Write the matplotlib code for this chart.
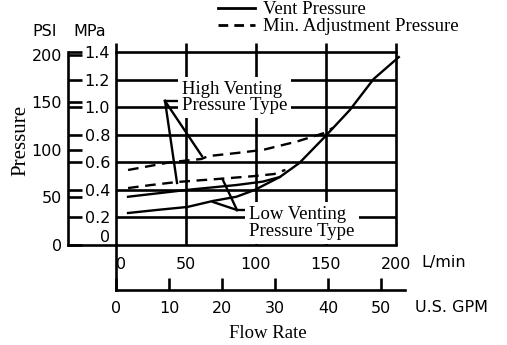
import matplotlib
matplotlib.use("Agg")
import matplotlib.pyplot as plt
from matplotlib.lines import Line2D

# --- axis scales ---
flow_ticks = [0, 50, 100, 150, 200]          # L/min
gpm_ticks = [0, 10, 20, 30, 40, 50]          # U.S. GPM
psi_ticks = [0, 50, 100, 150, 200]           # PSI
mpa_ticks = [0.2, 0.4, 0.6, 0.8, 1.0, 1.2, 1.4]
mpa_grid = [0.2, 0.4, 0.6, 0.8, 1.0, 1.2]

LMIN_PER_GPM = 3.78541
PSI_PER_MPA = 145.038

# --- curves (flow in L/min, pressure in MPa) ---
low_vent_flow = [8.6, 30, 51, 69, 86, 99, 117, 131, 149, 167, 184, 202]
low_vent_mpa = [0.232, 0.255, 0.276, 0.319, 0.35, 0.399, 0.493, 0.595, 0.783, 0.979, 1.204, 1.363]

high_vent_flow = [8.6, 51, 86, 105, 117]
high_vent_mpa = [0.35, 0.40, 0.435, 0.46, 0.493]

low_min_flow = [8.6, 25, 43.6, 74, 99, 113, 121]
low_min_mpa = [0.413, 0.435, 0.457, 0.48, 0.50, 0.515, 0.545]

high_min_flow = [8.6, 38.6, 61, 66, 86, 105, 129, 148, 155]
high_min_mpa = [0.544, 0.60, 0.624, 0.645, 0.667, 0.69, 0.75, 0.81, 0.85]

# --- labels: text anchor, leader vertex and the points each leader touches ---
high_label_xy = (47, 1.07)
high_vertex = (35, 1.045)
high_targets_flow = [61.4, 43.6]
high_targets_mpa = [0.645, 0.45]

low_label_xy = (95, 0.16)
low_vertex = (86.4, 0.254)
low_targets_flow = [76.4, 69.3]
low_targets_mpa = [0.471, 0.312]

W, H = 507, 345
LW = 1.9      # frame and grid
CLW = 1.7     # curves and leaders
SANS = "DejaVu Sans"
SERIF = "Liberation Serif"

fig = plt.figure(figsize=(W / 100, H / 100), dpi=100)

# main plotting area (L/min vs MPa)
ax = fig.add_axes([116 / W, (H - 245) / H, 280 / W, 193 / H])
ax.set_xlim(0, 200)
ax.set_ylim(0, 1.4)
for side in ("left", "right"):
    ax.spines[side].set_visible(False)
for side in ("top", "bottom"):
    ax.spines[side].set_linewidth(LW)
ax.set_xticks(flow_ticks)
ax.set_xticklabels([str(v) for v in flow_ticks], fontsize=11.5, family=SANS)
ax.set_yticks(mpa_ticks)
ax.set_yticklabels([f"{v:.1f}" for v in mpa_ticks], fontsize=11.5, family=SANS)
ax.tick_params(axis="x", length=0, pad=8.5)
ax.tick_params(axis="y", length=0, pad=4.3)
ax.get_xticklabels()[0].set_horizontalalignment("left")
ax.annotate("0", xy=(0, 0), xytext=(-4.3, 0), textcoords="offset points",
            ha="right", va="bottom", fontsize=11.5, family=SANS)

# grid
ax.hlines(mpa_grid, 0, 200, color="black", lw=LW, zorder=1)
ax.vlines(flow_ticks, 0, 1.465, color="black", lw=LW, zorder=1, clip_on=False)

# curves
ax.plot(low_vent_flow, low_vent_mpa, color="black", lw=CLW, zorder=2, clip_on=False)
ax.plot(high_vent_flow, high_vent_mpa, color="black", lw=CLW, zorder=2)
ax.plot(low_min_flow, low_min_mpa, color="black", lw=CLW, dashes=(4.5, 2.8), zorder=2)
ax.plot(high_min_flow, high_min_mpa, color="black", lw=CLW, dashes=(4.5, 2.8), zorder=2)

# labels with leader lines
box = dict(facecolor="white", edgecolor="none", pad=3)
ax.text(*high_label_xy, "High Venting\nPressure Type", ha="left", va="center",
        fontsize=13.5, family=SERIF, linespacing=0.95, bbox=box, zorder=4)
ax.plot([high_vertex[0], high_label_xy[0] - 1], [high_vertex[1]] * 2,
        color="black", lw=CLW, zorder=3)
for fx, fy in zip(high_targets_flow, high_targets_mpa):
    ax.plot([high_vertex[0], fx], [high_vertex[1], fy], color="black", lw=CLW, zorder=3)

ax.text(*low_label_xy, "Low Venting\nPressure Type", ha="left", va="center",
        fontsize=13.5, family=SERIF, linespacing=0.95, bbox=box, zorder=4)
ax.plot([low_vertex[0], low_label_xy[0] - 1], [low_vertex[1]] * 2,
        color="black", lw=CLW, zorder=3)
for fx, fy in zip(low_targets_flow, low_targets_mpa):
    ax.plot([low_vertex[0], fx], [low_vertex[1], fy], color="black", lw=CLW, zorder=3)

# PSI axis with MPa tick marks
ax_p = fig.add_axes([68 / W, (H - 245) / H, 48 / W, 193 / H])
ax_p.patch.set_visible(False)
ax_p.set_ylim(0, 1.4 * PSI_PER_MPA)
ax_p.set_xticks([])
for side in ("top", "right"):
    ax_p.spines[side].set_visible(False)
for side in ("left", "bottom"):
    ax_p.spines[side].set_linewidth(LW)
ax_p.set_yticks(psi_ticks)
ax_p.set_yticklabels([str(v) for v in psi_ticks], fontsize=11.5, family=SANS)
ax_p.set_yticks([v * PSI_PER_MPA for v in mpa_ticks], minor=True)
ax_p.tick_params(axis="y", which="both", direction="in", length=10, width=LW, pad=4.3)

# GPM axis below
gpm_max = 289 / (280 / 200) / LMIN_PER_GPM
ax_g = fig.add_axes([116 / W, (H - 290) / H, 289 / W, 45 / H])
ax_g.patch.set_visible(False)
ax_g.set_xlim(0, gpm_max)
ax_g.set_yticks([])
for side in ("top", "right"):
    ax_g.spines[side].set_visible(False)
for side in ("left", "bottom"):
    ax_g.spines[side].set_linewidth(LW)
ax_g.set_xticks(gpm_ticks)
ax_g.set_xticklabels([str(v) for v in gpm_ticks], fontsize=11.5, family=SANS)
ax_g.tick_params(axis="x", direction="in", length=8.6, width=LW, pad=8)

# unit and axis titles
fig.text(32 / W, 1 - 32 / H, "PSI", fontsize=11.5, family=SANS, va="center", ha="left")
fig.text(73 / W, 1 - 32 / H, "MPa", fontsize=11.5, family=SANS, va="center", ha="left")
fig.text(421 / W, 1 - 263 / H, "L/min", fontsize=11.5, family=SANS, va="center", ha="left")
fig.text(415 / W, 1 - 307 / H, "U.S. GPM", fontsize=11.5, family=SANS, va="center", ha="left")
fig.text(268 / W, 1 - 333 / H, "Flow Rate", fontsize=13.5, family=SERIF, va="center", ha="center")
fig.text(21 / W, 1 - 140 / H, "Pressure", fontsize=15, family=SERIF, va="center",
         ha="center", rotation=90)

# legend
handles = [Line2D([], [], color="black", lw=2.0),
           Line2D([], [], color="black", lw=2.0, dashes=(3.5, 2.2))]
fig.legend(handles, ["Vent Pressure", "Min. Adjustment Pressure"],
           loc="upper left", bbox_to_anchor=(218 / W, 1 - 1 / H), frameon=False,
           prop={"family": SERIF, "size": 13.5}, handlelength=1.97,
           handletextpad=0.45, labelspacing=0.0, borderpad=0, borderaxespad=0)

fig.savefig("out.png", dpi=100)
